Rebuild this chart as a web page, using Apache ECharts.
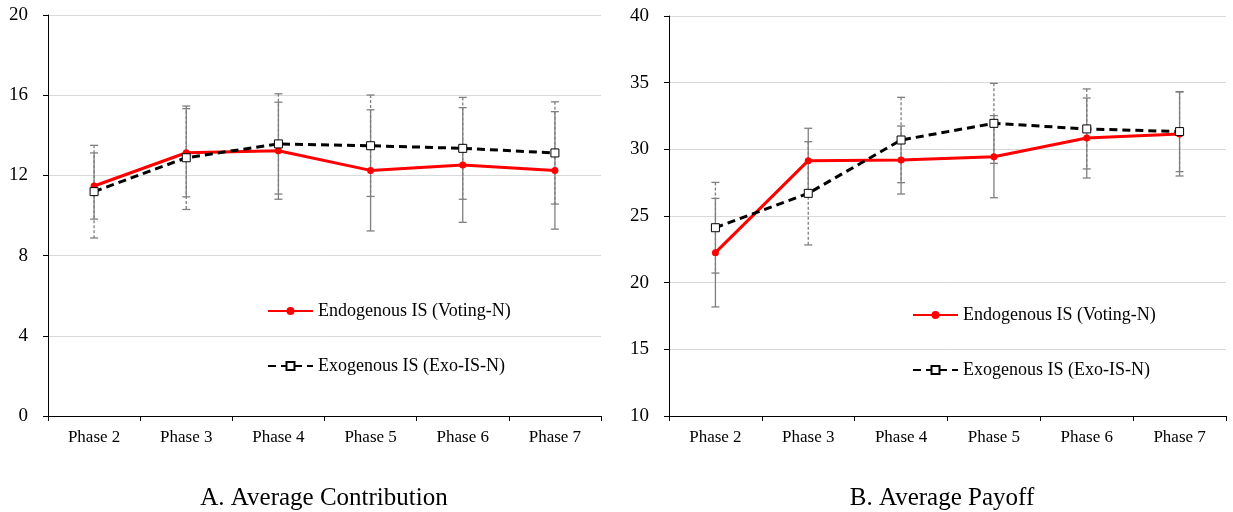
<!DOCTYPE html>
<html>
<head>
<meta charset="utf-8">
<script src="https://cdn.jsdelivr.net/npm/echarts@6/dist/echarts.min.js"></script>
<style>
  html, body { margin: 0; padding: 0; background: #fff; }
  #main { width: 1233px; height: 512px; }
</style>
</head>
<body>
<div id="main"></div>
<script>
// 数据
const phases = ['Phase 2', 'Phase 3', 'Phase 4', 'Phase 5', 'Phase 6', 'Phase 7'];

// A. Average Contribution
const contribEndo = [11.47, 13.13, 13.23, 12.25, 12.52, 12.25];
const contribEndoErr = [1.65, 2.2, 2.42, 3.02, 2.86, 2.93];
const contribExo = [11.19, 12.88, 13.57, 13.48, 13.35, 13.12];
const contribExoErr = [2.31, 2.58, 2.5, 2.53, 2.54, 2.55];

// B. Average Payoff
const payoffEndo = [22.25, 29.15, 29.2, 29.45, 30.85, 31.15];
const payoffEndoErr = [4.07, 2.43, 2.55, 3.08, 3.0, 3.15];
const payoffExo = [24.12, 26.7, 30.7, 31.95, 31.53, 31.33];
const payoffExoErr = [3.4, 3.87, 3.2, 3.0, 3.0, 3.0];

const contribTicks = [0, 4, 8, 12, 16, 20];
const payoffTicks = [10, 15, 20, 25, 30, 35, 40];

const ENDO = 'Endogenous IS (Voting-N)';
const EXO = 'Exogenous IS (Exo-IS-N)';
const font = '"Liberation Serif", "DejaVu Serif", serif';

const chart = echarts.init(document.getElementById('main'));

function errData(mean, err) {
  return mean.map((m, i) => [i, m + err[i], m - err[i]]);
}

//误差线，用custom画
function errSeries(mean, err, idx, dashed) {
  return {
    type: 'custom',
    xAxisIndex: idx,
    yAxisIndex: idx,
    z: 1,
    silent: true,
    data: errData(mean, err),
    renderItem: function (params, api) {
      const top = api.coord([api.value(0), api.value(1)]);
      const bot = api.coord([api.value(0), api.value(2)]);
      const style = { stroke: '#7f7f7f', lineWidth: 1.3, lineDash: dashed ? [3, 2] : null };
      const capStyle = { stroke: '#7f7f7f', lineWidth: 1.3 };
      return {
        type: 'group',
        children: [
          { type: 'line', shape: { x1: top[0], y1: top[1], x2: bot[0], y2: bot[1] }, style: style },
          { type: 'line', shape: { x1: top[0] - 4, y1: top[1], x2: top[0] + 4, y2: top[1] }, style: capStyle },
          { type: 'line', shape: { x1: bot[0] - 4, y1: bot[1], x2: bot[0] + 4, y2: bot[1] }, style: capStyle }
        ]
      };
    }
  };
}

function lineSeries(name, data, idx, isExo) {
  return {
    name: name,
    type: 'line',
    xAxisIndex: idx,
    yAxisIndex: idx,
    z: 3,
    data: data,
    symbol: isExo ? 'rect' : 'circle',
    symbolSize: isExo ? 8 : 7,
    showAllSymbol: true,
    lineStyle: isExo ? { color: '#000', width: 3, type: [8, 5] } : { color: '#ff0000', width: 3 },
    itemStyle: isExo ? { color: '#fff', borderColor: '#000', borderWidth: 1 } : { color: '#ff0000' },
    emphasis: { disabled: true }
  };
}

function xAxisOpt(idx) {
  return {
    type: 'category',
    gridIndex: idx,
    data: phases,
    boundaryGap: true,
    axisLine: { lineStyle: { color: '#000', width: 1 } },
    axisTick: { show: true, length: 5, lineStyle: { color: '#000' } },
    axisLabel: { color: '#000', fontFamily: font, fontSize: 17, margin: 13 }
  };
}

function yAxisOpt(idx, ticks) {
  return {
    type: 'value',
    gridIndex: idx,
    min: ticks[0],
    max: ticks[ticks.length - 1],
    interval: ticks[1] - ticks[0],
    axisLine: { show: true, lineStyle: { color: '#000', width: 1 } },
    axisTick: { show: true, length: 5, lineStyle: { color: '#000' } },
    axisLabel: { color: '#000', fontFamily: font, fontSize: 19, margin: 20 },
    splitLine: { lineStyle: { color: '#d9d9d9', width: 1 } }
  };
}

function legendOpt(left, top) {
  return {
    data: [ENDO, EXO], orient: 'vertical', left: left, top: top, padding: 0,
    itemWidth: 45, itemHeight: 10, itemGap: 37,
    textStyle: { fontFamily: font, fontSize: 18, color: '#000' }
  };
}

const option = {
  backgroundColor: '#fff',
  animation: false,
  title: [
    { text: 'A. Average Contribution', left: 324, top: 486, textAlign: 'center', padding: 0,
      textStyle: { fontFamily: font, fontSize: 25, fontWeight: 'normal', color: '#000' } },
    { text: 'B. Average Payoff', left: 942, top: 486, textAlign: 'center', padding: 0,
      textStyle: { fontFamily: font, fontSize: 25, fontWeight: 'normal', color: '#000' } }
  ],
  legend: [legendOpt(267, 302), legendOpt(912, 306)],
  grid: [
    { left: 48, top: 15, width: 553, height: 401 },
    { left: 669, top: 16, width: 557, height: 400 }
  ],
  xAxis: [xAxisOpt(0), xAxisOpt(1)],
  yAxis: [yAxisOpt(0, contribTicks), yAxisOpt(1, payoffTicks)],
  series: [
    errSeries(contribExo, contribExoErr, 0, true),
    errSeries(contribEndo, contribEndoErr, 0, false),
    lineSeries(ENDO, contribEndo, 0, false),
    lineSeries(EXO, contribExo, 0, true),
    errSeries(payoffExo, payoffExoErr, 1, true),
    errSeries(payoffEndo, payoffEndoErr, 1, false),
    lineSeries(ENDO, payoffEndo, 1, false),
    lineSeries(EXO, payoffExo, 1, true)
  ]
};

chart.setOption(option);
</script>
</body>
</html>
